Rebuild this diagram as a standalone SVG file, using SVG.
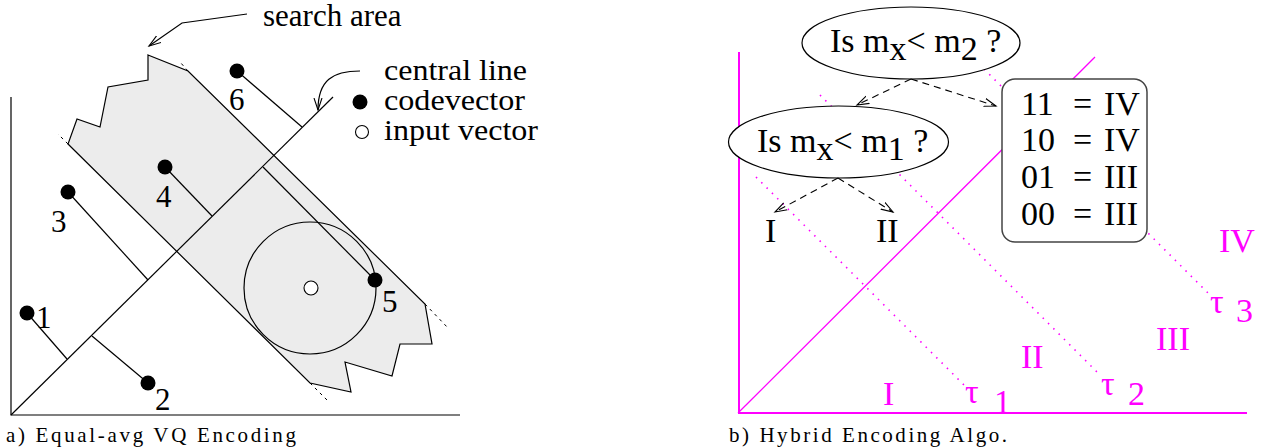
<svg xmlns="http://www.w3.org/2000/svg" width="1268" height="448" viewBox="0 0 1268 448">
<defs>
<style>
.t{font-family:"Liberation Serif","Times New Roman",serif;font-size:31px;fill:#000}
.lg{font-family:"Liberation Serif","Times New Roman",serif;font-size:29px;fill:#000}
.e{font-family:"Liberation Serif","Times New Roman",serif;font-size:34px;fill:#000}
.m{font-family:"Liberation Serif","Times New Roman",serif;font-size:34px;fill:#f0f}
.cap{font-family:"Liberation Serif","Times New Roman",serif;font-size:21px;fill:#000}
.ln{stroke:#000;stroke-width:1.2;fill:none}
.ext{stroke:#000;stroke-width:1;stroke-dasharray:3,4;fill:none}
.dot{fill:#000}
.mag{stroke:#f0f;fill:none}
.mdot{stroke:#f0f;stroke-width:1.6;stroke-dasharray:1.5,6;fill:none}
.dash{stroke:#000;stroke-width:1.1;stroke-dasharray:7,5;fill:none}
</style>
<marker id="ah" markerWidth="14" markerHeight="10" refX="12" refY="5" orient="auto" markerUnits="userSpaceOnUse" viewBox="0 0 14 10"><path d="M0,1 L12,5 L0,9" fill="none" stroke="#000" stroke-width="1.1" stroke-dasharray="none"/></marker>
</defs>
<rect width="1268" height="448" fill="#fff"/>

<g id="panel-a">
  <polygon points="148,55 188,71 425,304 432,344 400,344 392,376 345,362 351,392 310,383 68,144 77,119 100,127 108,87 148,80" fill="#ececec" stroke="#000" stroke-width="1.2"/>
  <line class="ext" x1="188" y1="71" x2="180" y2="62"/>
  <line class="ext" x1="68" y1="144" x2="58" y2="134"/>
  <line class="ext" x1="310" y1="383" x2="328" y2="401"/>
  <line class="ext" x1="425" y1="304" x2="449" y2="329"/>
  <path class="ln" d="M11,97 L11,415 L460,415"/>
  <line class="ln" x1="11" y1="415" x2="333" y2="97"/>
  <line class="ln" x1="27" y1="313" x2="67" y2="359"/>
  <line class="ln" x1="148" y1="383" x2="92" y2="336"/>
  <line class="ln" x1="68" y1="192" x2="148" y2="280"/>
  <line class="ln" x1="165" y1="167" x2="212" y2="216"/>
  <line class="ln" x1="375" y1="280" x2="263" y2="167"/>
  <line class="ln" x1="237" y1="71" x2="302" y2="127"/>
  <circle class="ln" cx="310" cy="288" r="66"/>
  <circle cx="311" cy="288" r="7" fill="#fff" stroke="#000" stroke-width="1.1"/>
  <circle class="dot" cx="27" cy="313" r="7.5"/>
  <circle class="dot" cx="148" cy="383" r="7.5"/>
  <circle class="dot" cx="68" cy="192" r="7.5"/>
  <circle class="dot" cx="165" cy="167" r="7.5"/>
  <circle class="dot" cx="375" cy="280" r="7.5"/>
  <circle class="dot" cx="237" cy="71" r="7.5"/>
  <text class="t" x="36" y="328">1</text>
  <text class="t" x="155" y="410">2</text>
  <text class="t" x="51" y="232">3</text>
  <text class="t" x="156" y="207">4</text>
  <text class="t" x="382" y="312">5</text>
  <text class="t" x="229" y="110">6</text>
  <text class="cap" x="6" y="442" textLength="290" lengthAdjust="spacing">a) Equal-avg VQ Encoding</text>
</g>

<g id="label-search-area">
  <path class="ln" d="M247,14 L182,23 L149,46" marker-end="url(#ah)"/>
  <text class="t" x="263" y="26">search area</text>
</g>
<g id="legend">
  <path class="ln" d="M360,71 C333,71 318,80 318,110" marker-end="url(#ah)"/>
  <text class="lg" x="384" y="80" textLength="143" lengthAdjust="spacingAndGlyphs">central line</text>
  <circle class="dot" cx="360" cy="102" r="7.5"/>
  <text class="lg" x="384" y="110" textLength="141" lengthAdjust="spacingAndGlyphs">codevector</text>
  <circle cx="362" cy="132" r="6.5" fill="#fff" stroke="#000" stroke-width="1.1"/>
  <text class="lg" x="384" y="140" textLength="154" lengthAdjust="spacingAndGlyphs">input vector</text>
</g>

<g id="panel-b">
  <line class="mag" stroke-width="2" x1="739" y1="52" x2="739" y2="413"/>
  <line class="mag" stroke-width="2" x1="738" y1="413" x2="1247" y2="413"/>
  <line class="mag" stroke-width="1.3" x1="738" y1="413" x2="1095" y2="57"/>
  <line class="mdot" x1="756" y1="177" x2="967" y2="388"/>
  <line class="mdot" x1="820" y1="95" x2="1098" y2="373"/>
  <line class="mdot" x1="984" y1="69" x2="1208" y2="293"/>
  <text class="m" x="883" y="405">I</text>
  <text class="m" x="1021" y="368">II</text>
  <text class="m" x="1156" y="350">III</text>
  <text class="m" x="1219" y="252">IV</text>
  <text class="m" x="965" y="403">τ</text>
  <text class="m" x="994" y="413">1</text>
  <text class="m" x="1101" y="395">τ</text>
  <text class="m" x="1128" y="405">2</text>
  <text class="m" x="1210" y="313">τ</text>
  <text class="m" x="1236" y="322">3</text>
  <text class="cap" x="729" y="442" textLength="278" lengthAdjust="spacing">b) Hybrid Encoding Algo.</text>
</g>

<g id="node-q2">
  <ellipse cx="911" cy="43" rx="109" ry="36" fill="#fff" stroke="#000" stroke-width="1.2"/>
  <text class="e" x="830" y="52">Is m<tspan dy="8">x</tspan><tspan dy="-8">&lt; m</tspan><tspan dy="8">2</tspan><tspan dy="-8"> ?</tspan></text>
</g>
<g id="node-q1">
  <ellipse cx="838.5" cy="142" rx="110" ry="36" fill="#fff" stroke="#000" stroke-width="1.2"/>
  <text class="e" x="757" y="152">Is m<tspan dy="8">x</tspan><tspan dy="-8">&lt; m</tspan><tspan dy="8">1</tspan><tspan dy="-8"> ?</tspan></text>
</g>
<g id="node-table">
  <rect x="1002" y="79" width="145" height="163" rx="13" fill="#fff" stroke="#444" stroke-width="1.5"/>
  <text class="e" x="1021" y="115">11</text><text class="e" x="1073" y="115">=</text><text class="e" x="1104" y="115">IV</text>
  <text class="e" x="1021" y="151">10</text><text class="e" x="1073" y="151">=</text><text class="e" x="1104" y="151">IV</text>
  <text class="e" x="1021" y="188">01</text><text class="e" x="1073" y="188">=</text><text class="e" x="1104" y="188">III</text>
  <text class="e" x="1021" y="225">00</text><text class="e" x="1073" y="225">=</text><text class="e" x="1104" y="225">III</text>
</g>
<g id="node-I"><text class="e" x="765" y="242">I</text></g>
<g id="node-II"><text class="e" x="876" y="242">II</text></g>

<g id="connectors">
  <line class="dash" x1="911" y1="79" x2="857" y2="105" marker-end="url(#ah)"/>
  <line class="dash" x1="911" y1="79" x2="996" y2="106" marker-end="url(#ah)"/>
  <line class="dash" x1="838" y1="178" x2="775" y2="212" marker-end="url(#ah)"/>
  <line class="dash" x1="838" y1="178" x2="893" y2="212" marker-end="url(#ah)"/>
</g>
</svg>
